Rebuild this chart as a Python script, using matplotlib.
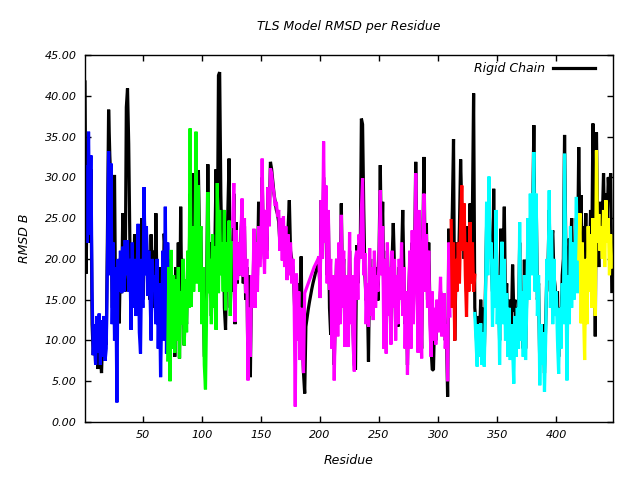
import matplotlib
matplotlib.use("Agg")
import matplotlib.pyplot as plt
import numpy as np

# RMSD per residue, one value per residue starting at the given residue
rigid_start = 1
rigid_rmsd = [
    41.7, 18.2, 32.1, 26.8, 22, 31, 12, 8.2, 11, 7,
    12, 6.5, 12, 8, 6, 11, 7.5, 12, 9.5, 23,
    38.3, 32.7, 29, 14, 22, 30.3, 12, 18, 16, 12.1,
    20, 15.8, 25.6, 19, 16, 38.6, 40.9, 34.1, 22, 15,
    21, 16, 23, 15, 19, 14, 22, 18, 25, 15,
    26.8, 20, 23.1, 17, 21, 15, 23, 17, 21, 14,
    25.6, 15.8, 19, 12, 16, 19, 12.1, 23.1, 20.7, 12,
    20, 14, 12, 20, 10, 17, 8, 19, 12, 22,
    7.8, 26.4, 14, 20, 9.4, 15, 12, 20, 16, 28,
    18, 30.5, 20, 26, 28, 20, 30.9, 22, 24, 14,
    19, 8, 12, 16, 31.6, 18, 22, 13, 22, 16,
    21.9, 31, 20, 42.5, 42.9, 28, 20, 26, 14, 11.3,
    20, 26, 32.3, 14, 20, 16, 28, 12, 24.5, 17,
    22, 18, 23, 26, 17, 24, 15, 19, 6, 18,
    5.5, 18, 14, 22, 15, 21, 18, 27, 20, 22,
    30, 22, 20, 26, 21, 28.8, 25, 31.9, 31, 29.5,
    28, 27, 26, 25.5, 24.5, 22, 25, 21, 24, 20,
    23, 20, 24, 27.2, 21, 20, 19, 16, 12, 18,
    11, 17, 12, 20.3, 10, 6, 3.5, 11.7, 12.8, 13.8,
    14.7, 15.5, 16.3, 17, 17.6, 18.2, 18.7, 19.2, 19.6, 16,
    27.2, 20, 30, 22, 26, 18, 25.2, 14, 10.7, 12,
    18, 7, 14, 20, 12, 21, 14, 26.8, 16, 20,
    11, 18, 13, 12, 21, 14, 17, 11, 7, 6.4,
    21.7, 17, 22, 20, 37.2, 36.5, 26, 18, 14.9, 16,
    7.4, 20, 15, 18, 14, 20, 16, 19, 14.9, 21,
    31.5, 20, 27, 14, 20, 10, 21, 15, 19, 12,
    20, 24.4, 19, 12, 17, 11.7, 19, 16, 20, 26,
    18, 12, 16, 7, 15.4, 20, 11, 22, 14, 20,
    31.9, 22, 10, 24, 16, 9, 22, 32.5, 18, 24.4,
    15, 22, 14, 9, 6.4, 6.4, 13, 10, 14, 12,
    13.5, 16, 12, 14.7, 14, 10, 11, 3.1, 23.7, 15,
    20, 26, 34.7, 10, 18, 22, 18, 24, 32.2, 26,
    24, 20, 23.5, 16, 24, 18, 26.8, 20, 26, 40.3,
    14, 12, 8, 13, 10, 15, 11, 14, 8, 16,
    24, 20, 27, 22, 20, 16, 28.6, 17, 24, 14,
    18, 10, 23.7, 18, 20, 26.4, 14, 17, 10, 15,
    8, 12, 19.3, 13.5, 15, 10, 14, 12, 22, 12,
    15, 9, 19.9, 9, 16, 22, 18, 24, 20, 25,
    36.4, 20, 27, 15, 17, 7, 12, 9, 12, 6,
    12, 18, 19, 26, 16, 22, 23.5, 18, 16.6, 13.5,
    16, 8, 14, 11, 18, 20, 35.2, 22, 12, 18,
    22.5, 20, 25, 18, 22, 18, 25, 20, 33.7, 22,
    27.8, 18, 24, 20, 25.6, 16, 22, 18, 26, 20,
    36.6, 30, 10.5, 35.5, 24, 19, 27, 21, 25, 30.5,
    22, 28, 24, 30, 27, 30.5, 16,
]

blue_start = 1
blue_rmsd = [
    28, 31.5, 22, 35.6, 23, 32.7, 16, 8.2, 12, 7,
    13, 8.5, 13.3, 7, 12.5, 8, 13, 7.5, 9, 20,
    33.2, 18, 31.7, 12, 22, 10, 19, 2.4, 20, 16,
    21, 15.8, 21.5, 16, 22.3, 18, 22.3, 16, 20, 11.3,
    22, 14, 20, 13, 17, 24.3, 11, 8.4, 20, 14,
    28.8, 18, 24, 15.5, 21, 16, 10, 20, 16, 18,
    12, 20, 9, 17, 5.5, 14, 21, 10, 26.4, 8.4,
    22, 17,
]

green_start = 71
green_rmsd = [
    7.6, 19, 5, 21.1, 9, 18, 8.5, 17.5, 10, 19,
    7.8, 16, 12, 20, 9.4, 17.5, 11, 21, 14, 36,
    14.1, 24, 16, 20, 35.6, 17, 29, 16, 24, 12,
    19, 7, 4, 14, 28.2, 15.8, 20, 12, 23, 14,
    21.5, 11.3, 29.3, 15.8, 26, 18, 22, 16, 26, 13.7,
    22, 16, 24.7, 13, 22,
]

magenta_start = 126
magenta_rmsd = [
    24, 29.3, 12.3, 23.5, 17.4,
    22, 18, 23, 27.4, 17.8, 25, 15.8, 20, 5.1, 14,
    8, 18, 14, 23.7, 14, 22, 16, 24, 19, 22,
    32.3, 21.7, 18.2, 26, 20, 28.8, 24, 31.1, 30.5, 29,
    28, 26.5, 27, 25.2, 26, 21, 25, 19.8, 25.2, 19,
    24, 17.4, 23, 18, 22, 17, 20, 15.8, 1.9, 18.2,
    10, 16, 7.6, 14, 9, 6, 15.8, 16.2, 16.6, 17,
    17.4, 17.8, 18.2, 18.6, 19, 19.3, 19.6, 19.9, 20.3, 15.2,
    27.2, 20, 34.4, 22, 29, 17, 26, 16.2, 20, 9,
    18, 5.1, 14, 20, 10.5, 22, 12, 25.4, 14, 21,
    9.2, 18, 12, 9.2, 23.3, 12, 18, 9.5, 6.2, 20,
    21, 15, 23, 20, 26, 29.9, 18, 20.7, 12, 17,
    11.7, 21.3, 13, 19, 12.5, 21, 14, 18, 16, 20,
    28.4, 18, 24, 9, 20, 8.4, 22, 13, 19, 9.5,
    21, 14, 20, 10, 18, 12, 20, 15, 22, 13,
    19, 9, 16, 5.8, 15, 21, 9, 23.5, 12, 18,
    30.5, 20, 8.5, 26, 14, 7.8, 22, 28, 16, 23,
    14, 21, 12, 8, 16, 10, 14, 9.5, 15, 11,
    14, 17.8, 10.5, 13, 15.8, 9, 12, 5, 22, 13,
]

red_start = 311
red_rmsd = [
    24.7, 14, 22, 10, 20, 16, 22, 17, 24, 29,
    21, 26.8, 18, 12.9, 22, 16, 24.5, 17, 22, 16, 18,
]

cyan_start = 331
cyan_rmsd = [
    13.3, 10, 6.8, 12, 8, 12.1, 7, 11, 6.8, 14,
    27, 18, 30.1, 20, 22, 11.7, 20, 14, 26, 12,
    18, 7, 16, 22.1, 12, 20, 10, 15.8, 8, 14,
    7.6, 12, 9, 4.7, 13, 8, 14, 9, 24.5, 10,
    16, 8, 18, 7.6, 14, 25, 15, 28, 18, 24,
    33.1, 16, 28, 13, 18, 4.5, 12, 7, 11, 3.7,
    10, 20, 17.4, 28.4, 14, 23.5, 12, 20, 13, 16,
    10, 5.9, 14, 9, 17, 12, 32.9, 20, 5.1, 18,
    12, 24, 14, 22, 15, 20, 27.6, 15.8, 24,
]

yellow_start = 419
yellow_rmsd = [
    20, 25.6, 12.1, 22, 14, 7.6, 20, 12, 24, 16,
    23, 14, 25, 18, 13, 33.3, 22, 25.5, 21, 24,
    20, 26, 19, 27.2, 22, 25, 18, 23, 19,
]

groups = [
    (blue_start, blue_rmsd, "#0000ff"),
    (green_start, green_rmsd, "#00ff00"),
    (magenta_start, magenta_rmsd, "#ff00ff"),
    (red_start, red_rmsd, "#ff0000"),
    (cyan_start, cyan_rmsd, "#00ffff"),
    (yellow_start, yellow_rmsd, "#ffff00"),
]

plt.rcParams["font.family"] = "DejaVu Sans"
plt.rcParams["font.style"] = "italic"

fig = plt.figure(figsize=(6.4, 4.8), dpi=100)
ax = fig.add_axes([0.1328, 0.1208, 0.8250, 0.7646])

LW = 2.3
res = rigid_start + np.arange(len(rigid_rmsd))
ax.plot(res, rigid_rmsd, color="black", linewidth=LW, label="Rigid Chain",
        solid_joinstyle="bevel")
for start, vals, col in groups:
    r = start + np.arange(len(vals))
    ax.plot(r, vals, color=col, linewidth=LW, solid_joinstyle="bevel")

ax.set_xlim(1, 448)
ax.set_ylim(0, 45)
ax.set_xticks([50, 100, 150, 200, 250, 300, 350, 400])
yt = np.arange(0, 46, 5)
ax.set_yticks(yt)
ax.set_yticklabels([f"{v:.2f}" for v in yt])
ax.tick_params(direction="in", length=4, width=1, top=True, right=True,
               labelsize=8, pad=6)
for s in ax.spines.values():
    s.set_linewidth(1)

ax.set_title("TLS Model RMSD per Residue", fontsize=9, pad=18)
ax.set_xlabel("Residue", fontsize=9, labelpad=10)
ax.set_ylabel("RMSD B", fontsize=9, labelpad=10)

ax.legend(loc="upper right", bbox_to_anchor=(0.983, 1.005), frameon=False,
          markerfirst=False, handlelength=3.4, handletextpad=0.6,
          fontsize=9, borderaxespad=0.3)

fig.savefig("out.png", dpi=100)
